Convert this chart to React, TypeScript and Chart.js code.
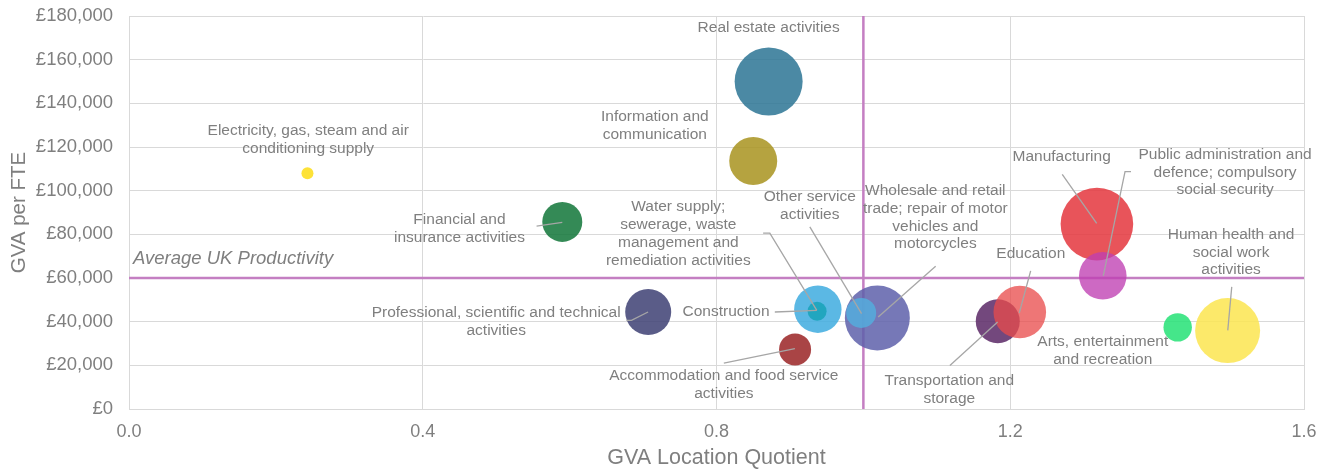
import React, { useEffect, useRef } from "react";
import { Chart, registerables } from "chart.js";

Chart.register(...registerables);

// ---- Data ----
const sectors = [
  "Electricity, gas, steam and air conditioning supply",
  "Real estate activities",
  "Information and communication",
  "Financial and insurance activities",
  "Professional, scientific and technical activities",
  "Construction",
  "Water supply; sewerage, waste management and remediation activities",
  "Accommodation and food service activities",
  "Wholesale and retail trade; repair of motor vehicles and motorcycles",
  "Other service activities",
  "Transportation and storage",
  "Education",
  "Manufacturing",
  "Public administration and defence; compulsory social security",
  "Arts, entertainment and recreation",
  "Human health and social work activities",
];
const locationQuotient = [0.243, 0.871, 0.85, 0.59, 0.707, 0.938, 0.937, 0.907, 1.019, 0.997, 1.183, 1.213, 1.318, 1.326, 1.428, 1.496];
const gvaPerFte = [108000, 150000, 113600, 85700, 44400, 45700, 44800, 27300, 41700, 44000, 40200, 44400, 84700, 61000, 37400, 35900];
const employmentSize = [36, 1156, 576, 400, 529, 562, 90, 256, 1056, 225, 484, 692, 1318, 566, 202, 1056];
const bubbleColors = [
  "rgba(253,221,21,0.85)",
  "rgba(44,116,148,0.85)",
  "rgba(168,147,30,0.85)",
  "rgba(17,117,56,0.85)",
  "rgba(61,64,115,0.85)",
  "rgba(62,171,223,0.85)",
  "rgba(23,163,186,0.85)",
  "rgba(154,35,37,0.85)",
  "rgba(94,96,170,0.85)",
  "rgba(85,173,221,0.85)",
  "rgba(90,40,102,0.85)",
  "rgba(233,75,75,0.76)",
  "rgba(228,54,61,0.85)",
  "rgba(191,63,178,0.78)",
  "rgba(36,226,117,0.85)",
  "rgba(251,229,80,0.85)",
];

const xTicks = [0, 0.4, 0.8, 1.2, 1.6];
const yTickStep = 20000;
const averageProductivity = 60000;
const averageLQ = 1.0;

// Label annotations (data coordinates), separate from series values
type Note = { lines: string[]; x: number; y: number; leader?: [number, number][] };
const notes: Note[] = [
  { lines: ["Electricity, gas, steam and air", "conditioning supply"], x: 0.244, y: 123200 },
  { lines: ["Real estate activities"], x: 0.871, y: 174700 },
  { lines: ["Information and", "communication"], x: 0.716, y: 129700 },
  { lines: ["Financial and", "insurance activities"], x: 0.45, y: 82700, leader: [[0.555, 83770], [0.59, 85470]] },
  { lines: ["Professional, scientific and technical", "activities"], x: 0.5, y: 40000, leader: [[0.6774, 40620], [0.6842, 40620], [0.7068, 44430]] },
  { lines: ["Construction"], x: 0.813, y: 44500, leader: [[0.8794, 44430], [0.9366, 45210]] },
  { lines: ["Water supply;", "sewerage, waste", "management and", "remediation activities"], x: 0.748, y: 80300, leader: [[0.8635, 80550], [0.8726, 80550], [0.9366, 45210]] },
  { lines: ["Accommodation and food service", "activities"], x: 0.81, y: 11250, leader: [[0.81, 21020], [0.9067, 27630]] },
  { lines: ["Wholesale and retail", "trade; repair of motor", "vehicles and", "motorcycles"], x: 1.098, y: 87700, leader: [[1.0984, 65410], [1.0202, 42140]] },
  { lines: ["Other service", "activities"], x: 0.927, y: 93200, leader: [[0.9271, 83450], [0.9975, 43700]] },
  { lines: ["Transportation and", "storage"], x: 1.117, y: 8950, leader: [[1.1178, 19970], [1.1828, 39840]] },
  { lines: ["Education"], x: 1.228, y: 71240, leader: [[1.2278, 63250], [1.2123, 43970]] },
  { lines: ["Manufacturing"], x: 1.27, y: 115580, leader: [[1.2708, 107500], [1.3177, 85010]] },
  { lines: ["Public administration and", "defence; compulsory", "social security"], x: 1.4925, y: 108400, leader: [[1.3644, 108690], [1.3563, 108690], [1.3267, 60960]] },
  { lines: ["Arts, entertainment", "and recreation"], x: 1.326, y: 26600 },
  { lines: ["Human health and", "social work", "activities"], x: 1.5007, y: 71700, leader: [[1.5016, 55910], [1.4962, 36030]] },
];

const TEXT = "#7f7f7f";
const FONT = "'Liberation Sans', Arial, sans-serif";

const overlayPlugin = {
  id: "overlay",
  beforeDatasetsDraw(chart: any) {
    const { ctx, chartArea, scales } = chart;
    const xs = scales.x, ys = scales.y;
    ctx.save();
    ctx.strokeStyle = "#c47fc2";
    ctx.lineWidth = 2.5;
    const px = xs.getPixelForValue(averageLQ);
    const py = ys.getPixelForValue(averageProductivity);
    ctx.beginPath();
    ctx.moveTo(px, chartArea.top);
    ctx.lineTo(px, chartArea.bottom);
    ctx.moveTo(chartArea.left, py);
    ctx.lineTo(chartArea.right, py);
    ctx.stroke();
    ctx.restore();
  },
  afterDatasetsDraw(chart: any) {
    const { ctx, chartArea, scales } = chart;
    const xs = scales.x, ys = scales.y;
    ctx.save();
    // leaders
    ctx.strokeStyle = "#a6a6a6";
    ctx.lineWidth = 1.3;
    for (const n of notes) {
      if (!n.leader) continue;
      ctx.beginPath();
      n.leader.forEach(([lx, ly], i) => {
        const X = xs.getPixelForValue(lx), Y = ys.getPixelForValue(ly);
        if (i === 0) ctx.moveTo(X, Y); else ctx.lineTo(X, Y);
      });
      ctx.stroke();
    }
    // texts
    ctx.fillStyle = TEXT;
    ctx.font = `15.5px ${FONT}`;
    ctx.textAlign = "center";
    ctx.textBaseline = "middle";
    const lh = 17.7;
    for (const n of notes) {
      const cx = xs.getPixelForValue(n.x);
      const cy = ys.getPixelForValue(n.y);
      const start = cy - ((n.lines.length - 1) * lh) / 2;
      n.lines.forEach((t, i) => ctx.fillText(t, cx, start + i * lh));
    }
    // average label
    ctx.font = `italic 18.5px ${FONT}`;
    ctx.textAlign = "left";
    ctx.fillText("Average UK Productivity", chartArea.left + 4, ys.getPixelForValue(averageProductivity) - 19);
    ctx.restore();
  },
};

export default function App() {
  const ref = useRef<HTMLCanvasElement | null>(null);
  useEffect(() => {
    document.body.style.margin = "0";
    const canvas = ref.current!;
    const chart = new Chart(canvas, {
      type: "bubble",
      data: {
        datasets: [
          {
            label: "Sectors",
            data: sectors.map((s, i) => ({ x: locationQuotient[i], y: gvaPerFte[i], r: Math.sqrt(employmentSize[i]) })),
            backgroundColor: bubbleColors,
            borderWidth: 0,
            hoverBorderWidth: 0,
          },
        ],
      },
      options: {
        responsive: false,
        animation: false,
        events: [],
        layout: { autoPadding: false, padding: { top: 16, right: 24, left: 0, bottom: 0 } },
        plugins: { legend: { display: false }, tooltip: { enabled: false } },
        scales: {
          x: {
            type: "linear",
            min: 0,
            max: 1.6,
            afterBuildTicks: (s: any) => { s.ticks = xTicks.map((v) => ({ value: v })); },
            afterFit: (s: any) => { s.height = 61; s.paddingLeft = 0; s.paddingRight = 0; },
            grid: { color: "#d9d9d9", drawTicks: false, lineWidth: 1 },
            border: { color: "#d9d9d9" },
            ticks: { color: TEXT, font: { family: FONT, size: 18 }, padding: 12, callback: (v: any) => Number(v).toFixed(1) },
            title: { display: true, text: "GVA Location Quotient", color: TEXT, font: { family: FONT, size: 21.5 }, padding: { top: 0, bottom: -1 } },
          },
          y: {
            type: "linear",
            min: 0,
            max: 180000,
            afterFit: (s: any) => { s.width = 129; s.paddingTop = 0; s.paddingBottom = 0; },
            grid: { color: "#d9d9d9", drawTicks: false, lineWidth: 1 },
            border: { color: "#d9d9d9" },
            ticks: {
              stepSize: yTickStep,
              color: TEXT,
              font: { family: FONT, size: 18.5 },
              padding: 16,
              callback: (v: any) => "£" + Number(v).toLocaleString("en-GB"),
            },
            title: { display: true, text: "GVA per FTE", color: TEXT, font: { family: FONT, size: 20.5 }, padding: { top: 7, bottom: 0 } },
          },
        },
      },
      plugins: [overlayPlugin],
    });
    return () => chart.destroy();
  }, []);
  return (
    <div style={{ width: 1328, height: 470 }}>
      <canvas ref={ref} width={1328} height={470} style={{ display: "block" }} />
    </div>
  );
}
